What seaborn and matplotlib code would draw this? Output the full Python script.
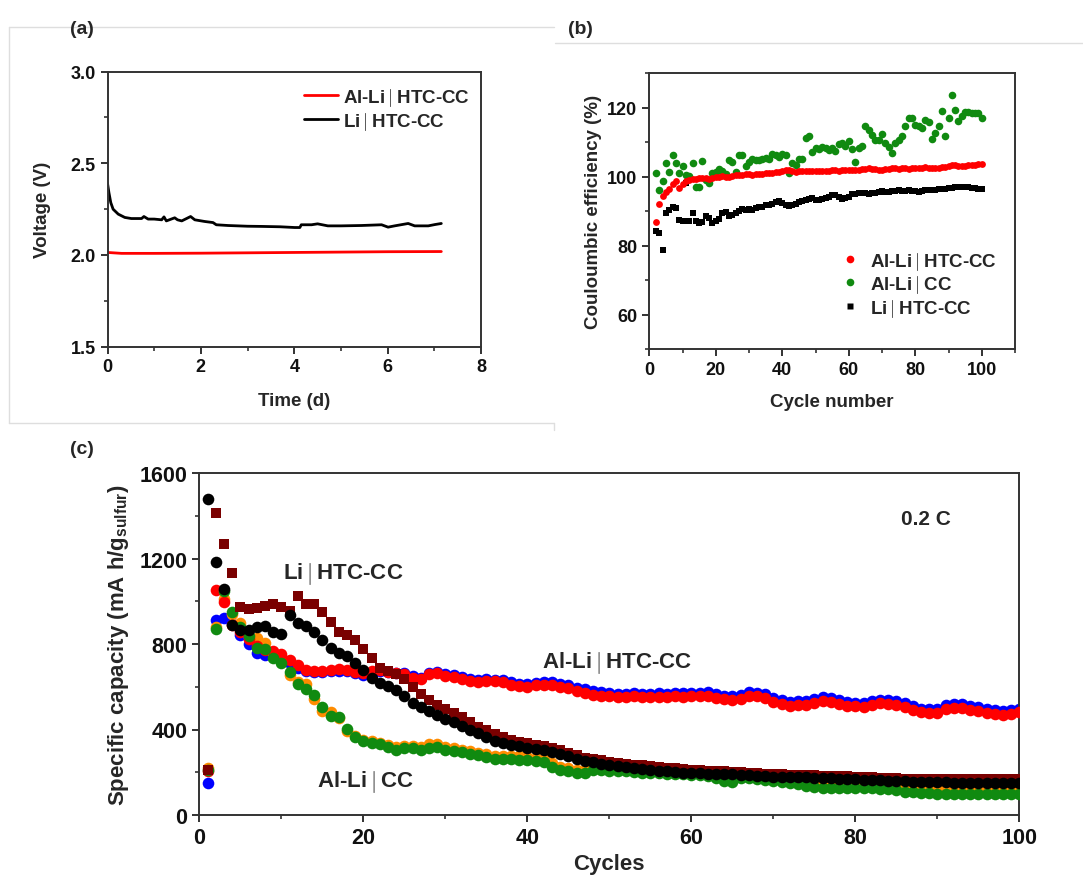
import numpy as np
import pandas as pd
import matplotlib
matplotlib.use("Agg")
import matplotlib.pyplot as plt
from matplotlib.lines import Line2D
from matplotlib.ticker import MultipleLocator
import seaborn as sns

# ---------------- labels ----------------
LAB_ALHTC = "Al-Li$\\mid$HTC-CC"
LAB_ALCC = "Al-Li$\\mid$CC"
LAB_LIHTC = "Li$\\mid$HTC-CC"

# ---------------- panel (a): voltage vs time ----------------
a_black_t = [0, 0.03, 0.07, 0.12, 0.23, 0.37, 0.51, 0.73, 0.78, 0.87, 1.0, 1.16, 1.21, 1.26,
             1.44, 1.5, 1.59, 1.78, 1.87, 2.08, 2.26, 2.33, 2.58, 3.0, 3.3, 3.7, 4.01, 4.12,
             4.15, 4.37, 4.5, 4.72, 5.0, 5.44, 5.87, 6.01, 6.15, 6.44, 6.58, 6.87, 7.01, 7.15]
a_black_v = [2.39, 2.34, 2.285, 2.249, 2.222, 2.204, 2.198, 2.198, 2.209, 2.195, 2.195, 2.191,
             2.207, 2.185, 2.202, 2.191, 2.185, 2.209, 2.191, 2.182, 2.176, 2.164, 2.160, 2.156,
             2.155, 2.153, 2.149, 2.149, 2.164, 2.164, 2.169, 2.158, 2.158, 2.160, 2.164, 2.151,
             2.158, 2.171, 2.158, 2.158, 2.165, 2.171]
a_red_t = [0, 0.3, 1, 2, 3, 4, 5, 6, 7.15]
a_red_v = [2.013, 2.008, 2.008, 2.009, 2.011, 2.013, 2.015, 2.017, 2.018]

# ---------------- panel (b): coulombic efficiency ----------------
b_cycles = list(range(2, 101))
b_red = [86.8, 91.9, 94.3, 95.5, 96.5, 97.7, 98.6, 96.7, 97.9, 98.6,
         99.0, 99.2, 99.4, 99.5, 99.6, 99.5, 99.4, 99.6, 99.8, 100.0,
         100.1, 100.0, 99.8, 100.2, 100.3, 100.4, 100.5, 100.6, 100.6, 100.5,
         100.7, 100.8, 100.7, 100.9, 101.0, 101.0, 101.2, 101.4, 101.6, 102.0,
         101.9, 101.5, 101.4, 101.5, 101.6, 101.5, 101.6, 101.5, 101.6, 101.6,
         101.7, 101.7, 101.6, 101.8, 101.8, 101.7, 101.8, 101.9, 101.8, 101.9,
         101.9, 102.0, 102.1, 102.2, 102.4, 102.2, 102.1, 102.0, 102.0, 102.1,
         102.2, 102.4, 102.4, 102.3, 102.5, 102.4, 102.3, 102.4, 102.5, 102.5,
         102.6, 102.7, 102.6, 102.6, 102.5, 102.6, 102.7, 102.8, 103.0, 103.2,
         103.2, 103.1, 103.0, 103.1, 103.2, 103.3, 103.4, 103.5, 103.6]
b_green = [100.9, 96.2, 98.8, 104.0, 101.4, 106.2, 103.8, 100.9, 103.0, 100.3,
           100.2, 104.0, 97.0, 97.0, 104.6, 98.9, 98.0, 100.9, 101.4, 102.3,
           101.6, 100.6, 104.8, 104.3, 101.4, 106.2, 106.2, 103.0, 104.3, 105.0,
           104.8, 104.8, 105.2, 105.5, 105.2, 106.4, 106.2, 105.6, 106.4, 106.2,
           100.9, 103.8, 103.3, 105.0, 105.2, 111.1, 111.7, 107.2, 108.2, 108.0,
           108.6, 108.2, 107.7, 108.2, 107.5, 109.3, 109.6, 108.9, 110.3, 108.0,
           104.3, 108.3, 108.9, 114.5, 113.5, 112.0, 110.6, 110.6, 112.2, 109.6,
           108.6, 106.7, 109.6, 110.6, 111.6, 114.5, 116.9, 117.1, 115.0, 114.5,
           114.0, 116.4, 115.7, 110.9, 112.5, 114.5, 119.0, 111.8, 116.9, 123.7,
           119.3, 116.1, 117.4, 118.6, 118.6, 118.5, 118.4, 118.3, 117.1]
b_black = [84.2, 83.6, 78.6, 89.3, 90.2, 91.3, 90.8, 87.3, 87.1, 98.0,
           87.1, 89.5, 87.0, 86.5, 86.8, 88.5, 88.0, 86.6, 87.1, 87.6,
           89.5, 89.7, 88.5, 88.9, 89.5, 89.9, 90.5, 90.2, 90.7, 90.2,
           90.9, 91.1, 91.2, 91.7, 91.8, 92.1, 92.6, 92.8, 92.4, 91.8,
           91.5, 91.7, 92.1, 92.6, 92.8, 93.1, 93.6, 93.8, 93.1, 93.3,
           93.6, 93.8, 94.2, 94.6, 94.5, 94.2, 93.6, 93.7, 94.0, 94.8,
           95.0, 95.1, 95.2, 95.2, 95.0, 95.3, 95.3, 95.6, 95.9, 95.5,
           95.6, 95.8, 95.7, 96.0, 95.8, 95.8, 96.0, 95.7, 95.7, 95.6,
           95.8, 96.1, 96.0, 96.2, 96.1, 96.3, 96.5, 96.4, 96.6, 96.8,
           96.9, 97.0, 97.1, 97.0, 97.0, 96.8, 96.6, 96.4, 96.4]

# ---------------- panel (c): specific capacity ----------------
c_cycles = list(range(1, 101))
c_red = [205, 1053, 998, 890, 855, 822, 790, 770, 768, 752,
         727, 702, 678, 676, 676, 678, 683, 678, 671, 662,
         675, 680, 668, 662, 660, 643, 634, 658, 663, 651,
         647, 636, 627, 622, 625, 625, 620, 610, 602, 600,
         606, 610, 607, 600, 592, 578, 571, 562, 558, 555,
         553, 551, 555, 552, 550, 553, 550, 555, 553, 555,
         556, 558, 547, 542, 540, 545, 558, 555, 548, 530,
         519, 511, 516, 514, 524, 533, 530, 519, 511, 508,
         507, 514, 522, 518, 515, 504, 492, 480, 477, 477,
         496, 500, 499, 492, 485, 477, 472, 469, 472, 480]
c_blue = [148, 914, 922, 895, 843, 798, 757, 749, 748, 738,
          711, 688, 672, 670, 670, 672, 676, 672, 665, 655,
          665, 676, 668, 664, 663, 650, 640, 665, 670, 660,
          655, 645, 636, 632, 634, 633, 630, 620, 614, 612,
          617, 622, 620, 613, 606, 594, 588, 580, 574, 570,
          568, 567, 570, 568, 566, 569, 566, 571, 569, 571,
          572, 574, 564, 559, 557, 562, 574, 572, 566, 548,
          538, 530, 534, 532, 541, 550, 548, 538, 530, 526,
          525, 531, 540, 536, 533, 522, 510, 498, 495, 496,
          514, 519, 517, 511, 504, 497, 491, 488, 490, 498]
c_orange = [220, 878, 1010, 940, 897, 831, 828, 805, 760, 730,
            655, 620, 611, 543, 488, 483, 452, 395, 368, 350,
            345, 338, 328, 318, 325, 325, 320, 330, 332, 318,
            315, 306, 298, 292, 285, 278, 278, 278, 275, 272,
            268, 262, 245, 225, 218, 210, 210, 220, 222, 217,
            215, 213, 212, 210, 208, 207, 205, 204, 202, 200,
            198, 196, 190, 182, 178, 182, 182, 180, 178, 175,
            170, 165, 162, 155, 150, 146, 145, 145, 144, 143,
            143, 142, 140, 140, 138, 134, 130, 128, 126, 124,
            124, 124, 124, 123, 123, 122, 122, 122, 121, 121]
c_green = [212, 868, 1046, 948, 880, 839, 781, 775, 733, 711,
           670, 615, 590, 560, 503, 462, 457, 402, 363, 344,
           338, 330, 316, 304, 312, 313, 305, 315, 318, 303,
           300, 293, 285, 279, 270, 262, 262, 261, 259, 257,
           254, 248, 225, 209, 204, 196, 196, 210, 211, 207,
           206, 205, 200, 198, 196, 195, 193, 192, 190, 189,
           187, 184, 173, 161, 153, 171, 171, 168, 165, 161,
           153, 148, 145, 136, 131, 127, 126, 126, 126, 125,
           125, 124, 121, 121, 117, 109, 106, 103, 103, 98,
           98, 98, 98, 98, 98, 98, 97, 97, 97, 96]
c_black = [1478, 1185, 1058, 891, 866, 866, 881, 886, 858, 845,
           937, 897, 886, 856, 817, 781, 759, 742, 710, 678,
           639, 619, 603, 583, 555, 526, 504, 485, 467, 450,
           433, 417, 399, 382, 363, 347, 337, 328, 322, 315,
           310, 302, 295, 286, 276, 264, 254, 247, 238, 235,
           230, 225, 220, 215, 210, 207, 204, 201, 198, 196,
           195, 194, 193, 193, 192, 189, 186, 183, 181, 179,
           178, 177, 176, 176, 175, 173, 171, 170, 169, 168,
           166, 164, 162, 160, 158, 157, 156, 155, 154, 153,
           153, 152, 152, 152, 151, 151, 151, 151, 151, 151]
c_darkred = [210, 1413, 1268, 1132, 972, 964, 967, 979, 987, 975,
             956, 1026, 987, 986, 948, 901, 858, 844, 820, 777,
             733, 688, 672, 660, 634, 597, 565, 540, 516, 498,
             478, 457, 434, 413, 396, 378, 363, 351, 343, 336,
             329, 323, 312, 305, 292, 280, 269, 264, 257, 249,
             244, 240, 236, 233, 230, 226, 222, 219, 215, 212,
             210, 208, 206, 204, 202, 200, 198, 196, 194, 192,
             190, 188, 187, 186, 185, 184, 183, 182, 181, 180,
             178, 176, 174, 172, 171, 170, 169, 168, 168, 168,
             168, 168, 167, 167, 167, 167, 167, 167, 167, 167]

# ---------------- style ----------------
sns.set_style("ticks")
plt.rcParams['font.family'] = ['Liberation Sans', 'DejaVu Sans']
plt.rcParams['font.weight'] = 'bold'
plt.rcParams['axes.labelweight'] = 'bold'
plt.rcParams['mathtext.fontset'] = 'custom'
plt.rcParams['mathtext.rm'] = 'Liberation Sans:bold'
plt.rcParams['mathtext.it'] = 'Liberation Sans:bold'
plt.rcParams['mathtext.bf'] = 'Liberation Sans:bold'
plt.rcParams['mathtext.default'] = 'rm'

W, H = 1083, 879
fig = plt.figure(figsize=(W / 100, H / 100), dpi=100)
fig.patch.set_facecolor('white')


def add_ax(l, t, r, b):
    return fig.add_axes([l / W, 1 - b / H, (r - l) / W, (b - t) / H])


def style_ax(ax, fs):
    for s in ax.spines.values():
        s.set_linewidth(1.4)
        s.set_color('#333333')
        s.set_visible(True)
    ax.tick_params(which='major', direction='out', length=5, width=1.3, labelsize=fs,
                   top=False, right=False, colors='#222222', labelcolor='#111111')
    ax.tick_params(which='minor', direction='out', length=3, width=1.1, top=False, right=False,
                   colors='#222222')
    ax.set_facecolor('white')
    ax.grid(False)


# faint frame lines of the original layout
frame_col = '#dedede'
for (x0, y0, x1, y1) in [(9, 28, 554, 28), (9, 28, 9, 424), (9, 424, 554, 424), (554, 424, 554, 431),
                         (555, 44, 1083, 44)]:
    fig.add_artist(Line2D([x0 / W, x1 / W], [1 - y0 / H, 1 - y1 / H], color=frame_col, lw=1.0))

# ---------------- (a) ----------------
ax_a = add_ax(107.5, 72.5, 481, 347.5)
df_a = pd.concat([
    pd.DataFrame({'t': a_red_t, 'v': a_red_v, 'cell': LAB_ALHTC}),
    pd.DataFrame({'t': a_black_t, 'v': a_black_v, 'cell': LAB_LIHTC}),
])
sns.lineplot(data=df_a, x='t', y='v', hue='cell', palette={LAB_ALHTC: '#ff0000', LAB_LIHTC: '#000000'},
             estimator=None, sort=False, lw=2.0, ax=ax_a, legend=False)
ax_a.set_xlim(0, 8)
ax_a.set_ylim(1.5, 3.0)
ax_a.xaxis.set_major_locator(MultipleLocator(2))
ax_a.xaxis.set_minor_locator(MultipleLocator(1))
ax_a.yaxis.set_major_locator(MultipleLocator(0.5))
ax_a.yaxis.set_minor_locator(MultipleLocator(0.25))
ax_a.yaxis.set_major_formatter(matplotlib.ticker.FormatStrFormatter('%.1f'))
style_ax(ax_a, 13)
ax_a.set_xlabel("Time (d)", fontsize=13.5, labelpad=12)
ax_a.set_ylabel("Voltage (V)", fontsize=13.5, labelpad=14)
ha = [Line2D([], [], color='#ff0000', lw=2), Line2D([], [], color='#000000', lw=2)]
ax_a.legend(ha, [LAB_ALHTC, LAB_LIHTC], loc='upper right', frameon=False, fontsize=13.5,
            handlelength=1.8, handletextpad=0.3, labelspacing=0.12, bbox_to_anchor=(1.016, 1.01))

# ---------------- (b) ----------------
ax_b = add_ax(649.3, 74, 1015, 350)
df_b = pd.DataFrame({'cycle': b_cycles, 'red': b_red, 'green': b_green, 'black': b_black})
sns.scatterplot(data=df_b, x='cycle', y='green', color='#108a10', marker='o', s=30, linewidth=0,
                ax=ax_b, zorder=2)
sns.scatterplot(data=df_b, x='cycle', y='black', color='#000000', marker='s', s=22, linewidth=0,
                ax=ax_b, zorder=3)
sns.scatterplot(data=df_b, x='cycle', y='red', color='#ff0000', marker='o', s=24, linewidth=0,
                ax=ax_b, zorder=4)
ax_b.set_xlim(0, 110)
ax_b.set_ylim(50, 130)
ax_b.xaxis.set_major_locator(MultipleLocator(20))
ax_b.xaxis.set_minor_locator(MultipleLocator(10))
ax_b.yaxis.set_major_locator(MultipleLocator(20))
ax_b.yaxis.set_minor_locator(MultipleLocator(10))
style_ax(ax_b, 13)
ax_b.set_xlabel("Cycle number", fontsize=13.5, labelpad=11)
ax_b.set_ylabel("Couloumbic efficiency (%)", fontsize=13.5, labelpad=4)
hb = [Line2D([], [], ls='', marker='o', ms=5.5, color='#ff0000', mec='none'),
      Line2D([], [], ls='', marker='o', ms=5.5, color='#108a10', mec='none'),
      Line2D([], [], ls='', marker='s', ms=5, color='#000000', mec='none')]
ax_b.legend(hb, [LAB_ALHTC, LAB_ALCC, LAB_LIHTC], loc='center left', frameon=False, fontsize=13.5,
            handlelength=1.0, handletextpad=0.57, labelspacing=0.08, bbox_to_anchor=(0.477, 0.2355))

# ---------------- (c) ----------------
ax_c = add_ax(199.3, 474, 1019.3, 816)
df_c = pd.DataFrame({'cycle': c_cycles, 'red': c_red, 'blue': c_blue, 'orange': c_orange,
                     'green': c_green, 'black': c_black, 'darkred': c_darkred})
sns.scatterplot(data=df_c, x='cycle', y='blue', color='#0000ff', marker='o', s=70, linewidth=0, ax=ax_c, zorder=2)
sns.scatterplot(data=df_c, x='cycle', y='red', color='#ff0000', marker='o', s=70, linewidth=0, ax=ax_c, zorder=3)
sns.scatterplot(data=df_c, x='cycle', y='orange', color='#ff8c00', marker='o', s=70, linewidth=0, ax=ax_c, zorder=2)
sns.scatterplot(data=df_c, x='cycle', y='green', color='#108a10', marker='o', s=70, linewidth=0, ax=ax_c, zorder=3)
sns.scatterplot(data=df_c, x='cycle', y='darkred', color='#7a0000', marker='s', s=62, linewidth=0, ax=ax_c, zorder=4)
sns.scatterplot(data=df_c, x='cycle', y='black', color='#000000', marker='o', s=70, linewidth=0, ax=ax_c, zorder=5)
ax_c.set_xlim(0, 100)
ax_c.set_ylim(0, 1600)
ax_c.xaxis.set_major_locator(MultipleLocator(20))
ax_c.xaxis.set_minor_locator(MultipleLocator(10))
ax_c.yaxis.set_major_locator(MultipleLocator(400))
ax_c.yaxis.set_minor_locator(MultipleLocator(200))
style_ax(ax_c, 15.5)
ax_c.set_xlabel("Cycles", fontsize=16, labelpad=4)
ax_c.set_ylabel("Specific capacity (mA h/g$_{\\mathrm{sulfur}}$)", fontsize=16, labelpad=6)
ax_c.text(17.6, 1130, LAB_LIHTC, fontsize=16, fontweight='bold', ha='center', va='center')
ax_c.text(51.0, 715, LAB_ALHTC, fontsize=16, fontweight='bold', ha='center', va='center')
ax_c.text(20.3, 160, LAB_ALCC, fontsize=16, fontweight='bold', ha='center', va='center')
ax_c.text(88.6, 1389, "0.2 C", fontsize=15, fontweight='bold', ha='center', va='center')

# panel letters
fig.text(82 / W, 1 - 30 / H, "(a)", fontsize=14, fontweight='bold', ha='center', va='center')
fig.text(580 / W, 1 - 30 / H, "(b)", fontsize=14, fontweight='bold', ha='center', va='center')
fig.text(82 / W, 1 - 450 / H, "(c)", fontsize=14, fontweight='bold', ha='center', va='center')

fig.savefig("out.png", dpi=100, facecolor='white')
